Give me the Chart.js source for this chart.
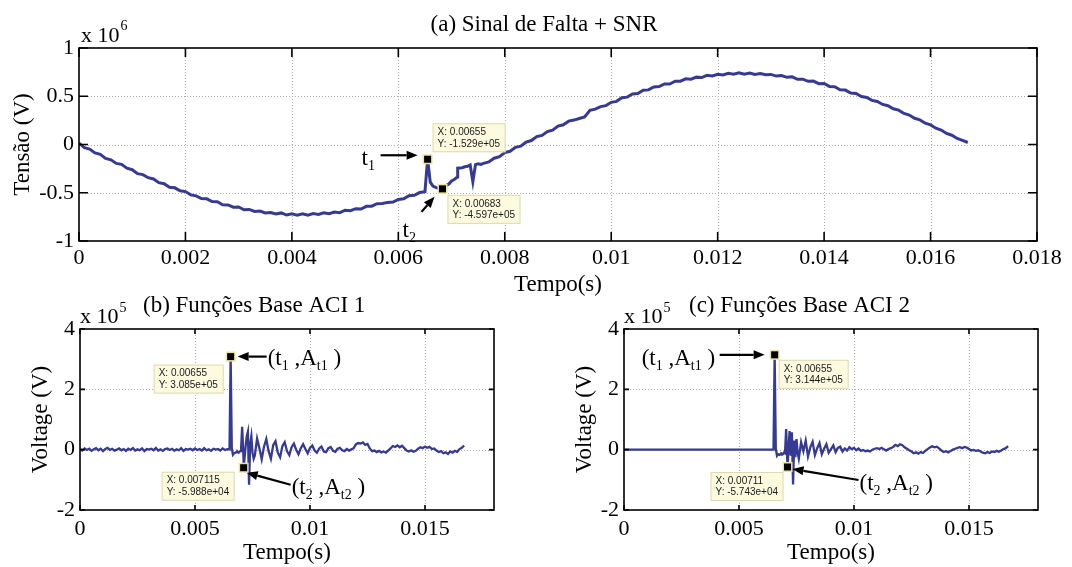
<!DOCTYPE html>
<html>
<head>
<meta charset="utf-8">
<script src="https://cdn.jsdelivr.net/npm/chart.js@4.4.0/dist/chart.umd.min.js"></script>
<style>
  html, body { margin: 0; padding: 0; background: #fff; }
  body { width: 1072px; height: 567px; position: relative; overflow: hidden; }
  canvas { position: absolute; }
</style>
</head>
<body>
<canvas id="figA" width="1072" height="300" style="left:0;top:0"></canvas>
<canvas id="figB" width="540" height="277" style="left:0;top:290px"></canvas>
<canvas id="figC" width="532" height="277" style="left:540px;top:290px"></canvas>
<script>
// sample times (s), shared by the three plots
const tempo = [
  0, 0.0001, 0.0002, 0.0003, 0.0004, 0.0005, 0.0006, 0.0007, 0.0008, 0.0009,
  0.001, 0.0011, 0.0012, 0.0013, 0.0014, 0.0015, 0.0016, 0.0017, 0.0018, 0.0019,
  0.002, 0.0021, 0.0022, 0.0023, 0.0024, 0.0025, 0.0026, 0.0027, 0.0028, 0.0029,
  0.003, 0.0031, 0.0032, 0.0033, 0.0034, 0.0035, 0.0036, 0.0037, 0.0038, 0.0039,
  0.004, 0.0041, 0.0042, 0.0043, 0.0044, 0.0045, 0.0046, 0.0047, 0.0048, 0.0049,
  0.005, 0.0051, 0.0052, 0.0053, 0.0054, 0.0055, 0.0056, 0.0057, 0.0058, 0.0059,
  0.006, 0.0061, 0.0062, 0.0063, 0.0064, 0.0065,
  0.00655, 0.0066, 0.00665, 0.0067, 0.00675, 0.0068, 0.00683, 0.00686, 0.0069, 0.00695,
  0.007, 0.00705, 0.00711, 0.007115, 0.0072, 0.00725, 0.0073, 0.00735, 0.0074, 0.00745,
  0.0075, 0.00755,
  0.0076, 0.0077, 0.0078, 0.0079,
  0.008, 0.0081, 0.0082, 0.0083, 0.0084, 0.0085, 0.0086, 0.0087, 0.0088, 0.0089,
  0.009, 0.0091, 0.0092, 0.0093, 0.0094, 0.0095, 0.0096, 0.0097, 0.0098, 0.0099,
  0.01, 0.0101, 0.0102, 0.0103, 0.0104, 0.0105, 0.0106, 0.0107, 0.0108, 0.0109,
  0.011, 0.0111, 0.0112, 0.0113, 0.0114, 0.0115, 0.0116, 0.0117, 0.0118, 0.0119,
  0.012, 0.0121, 0.0122, 0.0123, 0.0124, 0.0125, 0.0126, 0.0127, 0.0128, 0.0129,
  0.013, 0.0131, 0.0132, 0.0133, 0.0134, 0.0135, 0.0136, 0.0137, 0.0138, 0.0139,
  0.014, 0.0141, 0.0142, 0.0143, 0.0144, 0.0145, 0.0146, 0.0147, 0.0148, 0.0149,
  0.015, 0.0151, 0.0152, 0.0153, 0.0154, 0.0155, 0.0156, 0.0157, 0.0158, 0.0159,
  0.016, 0.0161, 0.0162, 0.0163, 0.0164, 0.0165, 0.0166, 0.0167
];

// (a) Sinal de Falta + SNR  (V)
const tensaoFalta = [
  15000, -33000, -47000, -87000, -102000, -145000, -159000, -196000, -206000, -245000,
  -261000, -302000, -312000, -344000, -357000, -396000, -407000, -443000, -449000, -480000,
  -488000, -522000, -532000, -561000, -563000, -592000, -593000, -624000, -626000, -650000,
  -648000, -676000, -673000, -694000, -689000, -710000, -704000, -720000, -709000, -731000,
  -719000, -733000, -718000, -733000, -716000, -724000, -707000, -717000, -700000, -706000,
  -681000, -686000, -665000, -669000, -641000, -639000, -614000, -612000, -600000, -596000,
  -570000, -563000, -531000, -526000, -498000, -490000,
  -152900, -390000, -430000, -445000, -452000, -448000, -459700, -450000, -425000, -410000,
  -378000, -362000, -338000, -245000, -240000, -231000, -226000, -212000, -385000, -208000,
  -200000, -206000,
  -195000, -181000, -142000, -126000,
  -84000, -70000, -30000, -17000, 24000, 41000, 82000, 94000, 134000, 148000,
  190000, 204000, 242000, 253000, 270000, 285000, 355000, 366000, 393000, 403000,
  437000, 447000, 484000, 491000, 523000, 528000, 562000, 566000, 597000, 600000,
  627000, 626000, 655000, 656000, 681000, 677000, 698000, 694000, 717000, 711000,
  728000, 720000, 738000, 729000, 743000, 729000, 741000, 725000, 736000, 722000,
  726000, 709000, 715000, 696000, 701000, 676000, 677000, 655000, 657000, 630000,
  633000, 602000, 599000, 568000, 564000, 534000, 528000, 498000, 488000, 457000,
  446000, 415000, 402000, 370000, 356000, 322000, 305000, 272000, 255000, 221000,
  203000, 169000, 150000, 115000, 96000, 62000, 42000, 21000
];

// (b) Funções Base ACI 1  (V)
const baseACI1 = [
  2000, -3000, 4000, -1000, 3000, -4000, 1000, 5000, -2000, 3000,
  -5000, 2000, 6000, -1000, 3000, -3000, 0, 4000, -2000, 2000,
  -4000, 3000, -1000, 5000, -3000, 1000, -2000, 4000, -5000, 2000,
  0, 3000, -2000, 6000, -3000, 1000, -4000, 2000, 4000, -1000,
  3000, -3000, 1000, -2000, 5000, -4000, 2000, 0, 3000, -2000,
  4000, -1000, 2000, -3000, 5000, -2000, 1000, -4000, 3000, 0,
  2000, -3000, 4000, -1000, 2000, 1000,
  308500, 5000, -17000, -12000, -10000, -8000, -9000, -7000, -10000, -6000,
  -5000, 76000, -30000, -59880, 10000, 45000, 60000, -116000, 20000, 45000,
  -10000, -30000,
  -20000, 37000, 5000, -32000,
  10000, 35000, -5000, -30000, 15000, 28000, -10000, -25000, 12000, 25000,
  -5000, -18000, 8000, 20000, 0, -15000, 5000, 18000, 2000, -12000,
  6000, 14000, -3000, -10000, 4000, 10000, -6000, -8000, 5000, 9000,
  -4000, -7000, 3000, 6000, -2000, -5000, 2000, -3000, 1000, 5000,
  18000, 22000, 20000, 24000, 16000, 19000, 4000, -5000, -3000, -8000,
  -4000, -9000, -6000, -10000, -3000, 4000, 12000, 9000, 14000, 8000,
  13000, 5000, -3000, -6000, -2000, -7000, -4000, 3000, 8000, 5000,
  10000, 6000, 9000, 2000, 4000, -3000, -8000, -5000, -12000, -9000,
  -14000, -6000, -10000, -4000, -7000, 2000, 6000, 14000
];

// (c) Funções Base ACI 2  (V)
const baseACI2 = [
  0, 0, 0, 0, 0, 0, 0, 0, 0, 0,
  0, 0, 0, 0, 0, 0, 0, 0, 0, 0,
  0, 0, 0, 0, 0, 0, 0, 0, 0, 0,
  0, 0, 0, 0, 0, 0, 0, 0, 0, 0,
  0, 0, 0, 0, 0, 0, 0, 0, 0, 0,
  0, 0, 0, 0, 0, 0, 0, 0, 0, 0,
  0, 0, 0, 0, 0, 0,
  314400, 3000, -20000, -15000, -17000, -14000, -16000, -13000, -15000, -10000,
  -12000, 68000, -57430, -50000, 62000, -20000, 58000, -115000, 30000, -25000,
  35000, -10000,
  -30000, 25000, -5000, 30000,
  -22000, 8000, 26000, -18000, 5000, 22000, -15000, 3000, 18000, -10000,
  2000, 14000, -8000, 6000, 10000, -6000, 4000, -3000, 8000, 2000,
  6000, -2000, 4000, -4000, -1000, -5000, -3000, -6000, 0, 3000,
  5000, 2000, 6000, 1000, -3000, 2000, 5000, 9000, 16000, 12000,
  18000, 15000, 8000, 3000, -2000, -6000, -12000, -9000, -13000, -8000,
  -11000, -4000, 2000, 7000, 11000, 8000, 10000, 4000, -3000, -8000,
  -5000, -9000, -4000, 0, 3000, 6000, 8000, 5000, 9000, 7000,
  2000, -3000, -1000, -4000, -2000, -6000, -10000, -12000, -8000, -11000,
  -6000, -8000, -4000, -7000, -3000, 2000, 5000, 12000
];

const SERIF = '"Liberation Serif", "Times New Roman", serif';
const SANS = '"Liberation Sans", Arial, sans-serif';
const LINE_BLUE = '#363a92';

// MATLAB style data tip value: -1.529e+05
function fmtE(v) {
  const [m, e] = v.toExponential(3).split('e');
  return m + 'e' + e[0] + e.slice(1).padStart(2, '0');
}

function drawRich(ctx, x, y, parts, size) {
  ctx.textAlign = 'left';
  ctx.textBaseline = 'alphabetic';
  ctx.fillStyle = '#000';
  parts.forEach(([s, sub]) => {
    ctx.font = (sub ? Math.round(size * 0.6) : size) + 'px ' + SERIF;
    ctx.fillText(s, x, sub ? y + size * 0.22 : y);
    x += ctx.measureText(s).width;
  });
}

function drawArrow(ctx, x1, y1, x2, y2) {
  const ang = Math.atan2(y2 - y1, x2 - x1), hl = 11, hw = 4.5;
  const bx = x2 - hl * Math.cos(ang), by = y2 - hl * Math.sin(ang);
  ctx.strokeStyle = '#000';
  ctx.fillStyle = '#000';
  ctx.lineWidth = 2.2;
  ctx.beginPath(); ctx.moveTo(x1, y1); ctx.lineTo(bx, by); ctx.stroke();
  ctx.beginPath();
  ctx.moveTo(x2, y2);
  ctx.lineTo(bx + hw * Math.sin(ang), by - hw * Math.cos(ang));
  ctx.lineTo(bx - hw * Math.sin(ang), by + hw * Math.cos(ang));
  ctx.closePath();
  ctx.fill();
}

function axesPlugin(c, values) {
  return {
    id: 'matlabAxes',
    beforeDatasetsDraw(chart) {
      const { ctx, chartArea: a, scales: { x, y } } = chart;
      ctx.save();
      ctx.strokeStyle = '#b3aba3';
      ctx.lineWidth = 1;
      ctx.setLineDash([1, 2]);
      ctx.beginPath();
      x.ticks.forEach(t => {
        const px = Math.round(x.getPixelForValue(t.value)) + 0.5;
        if (px > a.left + 2 && px < a.right - 2) { ctx.moveTo(px, a.top); ctx.lineTo(px, a.bottom); }
      });
      y.ticks.forEach(t => {
        const py = Math.round(y.getPixelForValue(t.value)) + 0.5;
        if (py > a.top + 2 && py < a.bottom - 2) { ctx.moveTo(a.left, py); ctx.lineTo(a.right, py); }
      });
      ctx.stroke();
      ctx.restore();
    },
    afterDraw(chart) {
      const { ctx, chartArea: a, scales: { x, y } } = chart;
      ctx.save();
      // axes box and inward ticks
      ctx.strokeStyle = '#000';
      ctx.lineWidth = 1.6;
      ctx.strokeRect(a.left, a.top, a.right - a.left, a.bottom - a.top);
      ctx.beginPath();
      x.ticks.forEach(t => {
        const px = x.getPixelForValue(t.value);
        ctx.moveTo(px, a.bottom); ctx.lineTo(px, a.bottom - c.tickLen);
        ctx.moveTo(px, a.top); ctx.lineTo(px, a.top + c.tickLen);
      });
      y.ticks.forEach(t => {
        const py = y.getPixelForValue(t.value);
        ctx.moveTo(a.left, py); ctx.lineTo(a.left + c.tickLen, py);
        ctx.moveTo(a.right, py); ctx.lineTo(a.right - c.tickLen, py);
      });
      ctx.stroke();

      // exponent label "x 10^n"
      ctx.fillStyle = '#000';
      ctx.textAlign = 'left';
      ctx.textBaseline = 'alphabetic';
      ctx.font = '22px ' + SERIF;
      const ex = a.left + c.expoDx;
      ctx.fillText('x 10', ex, a.top - 6);
      const ew = ctx.measureText('x 10').width;
      ctx.font = '14px ' + SERIF;
      ctx.fillText(c.expo, ex + ew + 1, a.top + c.expoSupDy);

      // plot title
      ctx.font = '23px ' + SERIF;
      ctx.textAlign = c.title.align;
      ctx.fillText(c.title.text, a.left + c.title.x, a.top + c.title.dy);

      // axis titles
      ctx.textAlign = 'center';
      ctx.textBaseline = 'middle';
      ctx.fillText(c.xTitle, (a.left + a.right) / 2, a.bottom + c.xTitleDy);
      ctx.save();
      ctx.translate(a.left + c.yTitleDx, (a.top + a.bottom) / 2);
      ctx.rotate(-Math.PI / 2);
      ctx.fillText(c.yTitle, 0, 0);
      ctx.restore();

      // data tips
      const marks = c.tips.map(tp => {
        const i = tempo.indexOf(tp.t);
        return { i, mx: x.getPixelForValue(tempo[i]), my: y.getPixelForValue(values[i]) };
      });
      c.arrows.forEach(ar => {
        const m = marks[ar.tip];
        drawArrow(ctx, m.mx + ar.from[0], m.my + ar.from[1], m.mx + ar.to[0], m.my + ar.to[1]);
      });
      c.notes.forEach(n => {
        const m = marks[n.tip];
        drawRich(ctx, m.mx + n.dx, m.my + n.dy, n.parts, 23);
      });
      c.tips.forEach((tp, k) => {
        const { i, mx, my } = marks[k];
        ctx.font = '10px ' + SANS;
        const l1 = 'X: ' + String(tempo[i]), l2 = 'Y: ' + fmtE(values[i]);
        const w = Math.ceil(Math.max(ctx.measureText(l1).width, ctx.measureText(l2).width)) + 10, h = 29;
        const bx = tp.anchor === 'left' ? mx + tp.dx : mx + tp.dx - w;
        const by = my + tp.dy;
        ctx.fillStyle = '#fcfbe0';
        ctx.fillRect(bx, by, w, h);
        ctx.strokeStyle = '#e0d9ae';
        ctx.lineWidth = 1;
        ctx.strokeRect(bx + 0.5, by + 0.5, w - 1, h - 1);
        ctx.fillStyle = '#1a1a1a';
        ctx.textAlign = 'left';
        ctx.textBaseline = 'middle';
        ctx.fillText(l1, bx + 5, by + 9);
        ctx.fillText(l2, bx + 5, by + 20.5);
        ctx.fillStyle = '#eee4a0';
        ctx.fillRect(mx - 5, my - 5, 10, 10);
        ctx.fillStyle = '#000';
        ctx.fillRect(mx - 3.5, my - 3.5, 7, 7);
      });
      ctx.restore();
    }
  };
}

function makeChart(id, values, c) {
  const points = tempo.map((t, i) => ({ x: t, y: values[i] }));
  return new Chart(document.getElementById(id), {
    type: 'line',
    data: {
      datasets: [{
        data: points,
        borderColor: LINE_BLUE,
        borderWidth: c.lineWidth,
        pointRadius: 0,
        tension: 0,
        fill: false
      }]
    },
    options: {
      responsive: false,
      animation: false,
      devicePixelRatio: 1,
      parsing: false,
      layout: { padding: { top: c.padTop, right: c.padRight, left: 0, bottom: 0 } },
      plugins: { legend: { display: false }, tooltip: { enabled: false } },
      scales: {
        x: {
          type: 'linear', min: 0, max: 0.018,
          ticks: {
            stepSize: c.xStep, includeBounds: c.xBounds, autoSkip: false, maxRotation: 0,
            padding: c.xPad, color: '#000', font: { family: SERIF, size: 22 },
            callback: v => String(+v.toFixed(4))
          },
          grid: { display: false, drawTicks: false },
          border: { display: false },
          afterFit: s => { s.height = c.xAxisH; }
        },
        y: {
          type: 'linear', min: c.yMin, max: c.yMax,
          ticks: {
            stepSize: c.yStep, padding: 5, color: '#000', font: { family: SERIF, size: 22 },
            callback: v => String(+(v / c.yScale).toFixed(2))
          },
          grid: { display: false, drawTicks: false },
          border: { display: false },
          afterFit: s => { s.width = c.yAxisW; }
        }
      }
    },
    plugins: [axesPlugin(c, values)]
  });
}

const t1 = [['t'], ['1', 1]];
const t2 = [['t'], ['2', 1]];
const pt1 = [['(t'], ['1', 1], [' ,A'], ['t1', 1], [' )']];
const pt2 = [['(t'], ['2', 1], [' ,A'], ['t2', 1], [' )']];

makeChart('figA', tensaoFalta, {
  padTop: 48, padRight: 35, yAxisW: 79, xAxisH: 59, xPad: 4,
  yMin: -1e6, yMax: 1e6, yStep: 5e5, yScale: 1e6,
  xStep: 0.002, xBounds: true, lineWidth: 3, tickLen: 9,
  expo: '6', expoDx: 2, expoSupDy: -18,
  title: { text: '(a) Sinal de Falta + SNR', x: 465, dy: -17, align: 'center' },
  xTitle: 'Tempo(s)', xTitleDy: 44,
  yTitle: 'Tensão (V)', yTitleDx: -56,
  tips: [
    { t: 0.00655, anchor: 'left', dx: 5, dy: -36 },
    { t: 0.00683, anchor: 'left', dx: 5, dy: 6 }
  ],
  arrows: [
    { tip: 0, from: [-47, -4], to: [-10, -4] },
    { tip: 1, from: [-21, 23], to: [-8, 8] }
  ],
  notes: [
    { tip: 0, dx: -66, dy: 6, parts: t1 },
    { tip: 1, dx: -40, dy: 48, parts: t2 }
  ]
});

makeChart('figB', baseACI1, {
  padTop: 39, padRight: 46, yAxisW: 80, xAxisH: 57, xPad: 6,
  yMin: -2e5, yMax: 4e5, yStep: 2e5, yScale: 1e5,
  xStep: 0.005, xBounds: false, lineWidth: 2.3, tickLen: 5,
  expo: '5', expoDx: 0, expoSupDy: -17,
  title: { text: '(b) Funções Base ACI 1', x: 63, dy: -17, align: 'left' },
  xTitle: 'Tempo(s)', xTitleDy: 43,
  yTitle: 'Voltage (V)', yTitleDx: -39,
  tips: [
    { t: 0.00655, anchor: 'right', dx: -7, dy: 8 },
    { t: 0.007115, anchor: 'right', dx: -9, dy: 4 }
  ],
  arrows: [
    { tip: 0, from: [36, 0], to: [7, 0] },
    { tip: 1, from: [47, 17], to: [3, 5] }
  ],
  notes: [
    { tip: 0, dx: 37, dy: 8, parts: pt1 },
    { tip: 1, dx: 48, dy: 26, parts: pt2 }
  ]
});

makeChart('figC', baseACI2, {
  padTop: 39, padRight: 34, yAxisW: 84, xAxisH: 57, xPad: 6,
  yMin: -2e5, yMax: 4e5, yStep: 2e5, yScale: 1e5,
  xStep: 0.005, xBounds: false, lineWidth: 2.3, tickLen: 5,
  expo: '5', expoDx: 0, expoSupDy: -17,
  title: { text: '(c) Funções Base ACI 2', x: 65, dy: -17, align: 'left' },
  xTitle: 'Tempo(s)', xTitleDy: 43,
  yTitle: 'Voltage (V)', yTitleDx: -39,
  tips: [
    { t: 0.00655, anchor: 'left', dx: 4, dy: 5 },
    { t: 0.00711, anchor: 'right', dx: -4, dy: 5 }
  ],
  arrows: [
    { tip: 0, from: [-55, 0], to: [-10, 0] },
    { tip: 1, from: [71, 13], to: [5, 2] }
  ],
  notes: [
    { tip: 0, dx: -133, dy: 10, parts: pt1 },
    { tip: 1, dx: 72, dy: 23, parts: pt2 }
  ]
});
</script>
</body>
</html>
